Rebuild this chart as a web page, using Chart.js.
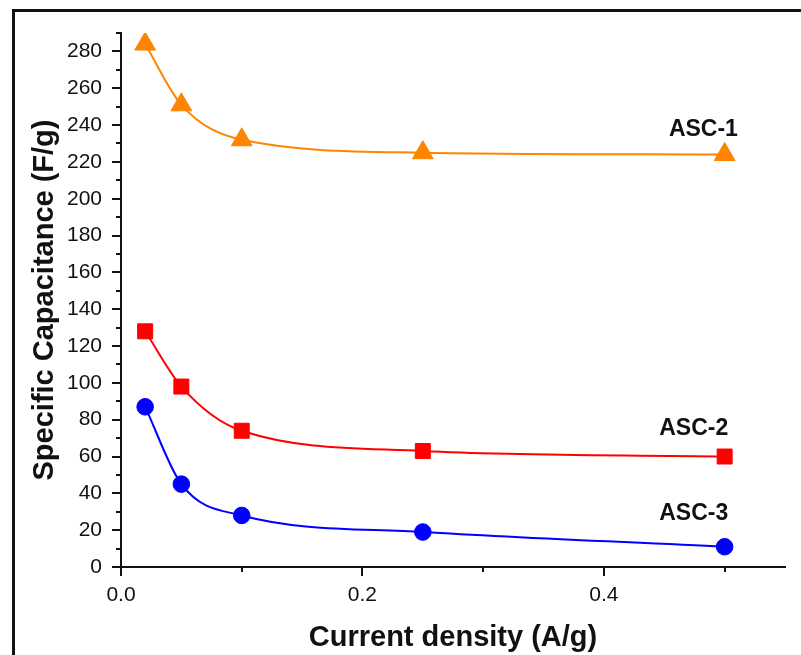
<!DOCTYPE html>
<html>
<head>
<meta charset="utf-8">
<script src="https://cdn.jsdelivr.net/npm/chart.js@4.4.1/dist/chart.umd.min.js"></script>
<style>
  html, body { margin: 0; padding: 0; background: #fff; }
  #wrap { position: relative; width: 801px; height: 655px; overflow: hidden; }
  #chart { position: absolute; left: 0; top: 0; }
  #frame {
    position: absolute; left: 12px; top: 9px; width: 840px; height: 700px;
    border: 3px solid #111; pointer-events: none;
  }
</style>
</head>
<body>
<div id="wrap">
  <canvas id="chart" width="801" height="655"></canvas>
  <div id="frame"></div>
</div>
<script>
// datos
const currentDensity = [0.02, 0.05, 0.1, 0.25, 0.5];
const asc1 = [284, 251, 232, 225, 224];
const asc2 = [128, 98, 74, 63, 60];
const asc3 = [87, 45, 28, 19, 11];
const seriesNames = ["ASC-1", "ASC-2", "ASC-3"];

const FONT = "'Liberation Sans', Arial, sans-serif";

function toPoints(ys) {
  return currentDensity.map((x, i) => ({ x: x, y: ys[i] }));
}

// marcas de los ejes (mayores con etiqueta, menores mas cortas)
const tickMarks = {
  id: "tickMarks",
  afterDraw(chart) {
    const ctx = chart.ctx;
    const xs = chart.scales.x, ys = chart.scales.y;
    ctx.save();
    ctx.strokeStyle = "#111";
    ctx.lineWidth = 2;
    ys.ticks.forEach(t => {
      const major = Math.round(t.value) % 20 === 0;
      const py = Math.round(ys.getPixelForValue(t.value));
      ctx.beginPath();
      ctx.moveTo(xs.left, py);
      ctx.lineTo(xs.left - (major ? 9 : 5), py);
      ctx.stroke();
    });
    xs.ticks.forEach(t => {
      const major = Math.round(t.value * 10) % 2 === 0;
      const px = Math.round(xs.getPixelForValue(t.value));
      ctx.beginPath();
      ctx.moveTo(px, ys.bottom);
      ctx.lineTo(px, ys.bottom + (major ? 9 : 5));
      ctx.stroke();
    });
    ctx.restore();
  }
};

// nombres de las curvas junto a cada serie
const seriesLabels = {
  id: "seriesLabels",
  afterDatasetsDraw(chart) {
    const ctx = chart.ctx;
    const xs = chart.scales.x, ys = chart.scales.y;
    const anchors = [[0.511, 234], [0.503, 71.6], [0.503, 25.5]];
    ctx.save();
    ctx.font = "bold 23px " + FONT;
    ctx.fillStyle = "#111";
    ctx.textAlign = "right";
    ctx.textBaseline = "alphabetic";
    seriesNames.forEach((name, i) => {
      ctx.fillText(name, xs.getPixelForValue(anchors[i][0]), ys.getPixelForValue(anchors[i][1]));
    });
    ctx.restore();
  }
};

new Chart(document.getElementById("chart"), {
  type: "line",
  data: {
    datasets: [{
      label: seriesNames[0],
      data: toPoints(asc1),
      borderColor: "#FF8400",
      backgroundColor: "#FF8400",
      pointStyle: "triangle",
      pointRadius: 12,
      pointBorderWidth: 1
    }, {
      label: seriesNames[1],
      data: toPoints(asc2),
      borderColor: "#FF0000",
      backgroundColor: "#FF0000",
      pointStyle: "rect",
      pointRadius: 10.6,
      pointBorderWidth: 1
    }, {
      label: seriesNames[2],
      data: toPoints(asc3),
      borderColor: "#0000FF",
      backgroundColor: "#0000FF",
      pointStyle: "circle",
      pointRadius: 8.3,
      pointBorderWidth: 1
    }]
  },
  options: {
    responsive: false,
    animation: false,
    layout: { padding: { top: 33, right: 16, bottom: 0, left: 0 } },
    elements: {
      line: { borderWidth: 2, cubicInterpolationMode: "monotone", fill: false }
    },
    plugins: { legend: { display: false }, tooltip: { enabled: false } },
    scales: {
      x: {
        type: "linear",
        min: 0,
        max: 0.55,
        afterFit(scale) { scale.height = 88; },
        grid: { display: false, drawTicks: false },
        border: { display: true, color: "#111", width: 2 },
        ticks: {
          stepSize: 0.1,
          includeBounds: false,
          autoSkip: false,
          maxRotation: 0,
          padding: 16,
          color: "#111",
          font: { family: FONT, size: 21 },
          callback: v => (Math.round(v * 10) % 2 === 0 ? v.toFixed(1) : "")
        },
        title: {
          display: true,
          text: "Current density (A/g)",
          color: "#111",
          font: { family: FONT, size: 29, weight: "bold", lineHeight: 1.2 },
          padding: { top: 0, bottom: 0 }
        }
      },
      y: {
        min: 0,
        max: 290,
        afterFit(scale) { scale.width = 121; },
        grid: { display: false, drawTicks: false },
        border: { display: true, color: "#111", width: 2 },
        ticks: {
          stepSize: 10,
          autoSkip: false,
          padding: 19,
          color: "#111",
          font: { family: FONT, size: 21 },
          callback: v => (Math.round(v) % 20 === 0 ? v : "")
        },
        title: {
          display: true,
          text: "Specific Capacitance (F/g)",
          color: "#111",
          font: { family: FONT, size: 29, weight: "bold", lineHeight: 1.2 },
          padding: { top: 28, bottom: 0 }
        }
      }
    }
  },
  plugins: [tickMarks, seriesLabels]
});
</script>
</body>
</html>
